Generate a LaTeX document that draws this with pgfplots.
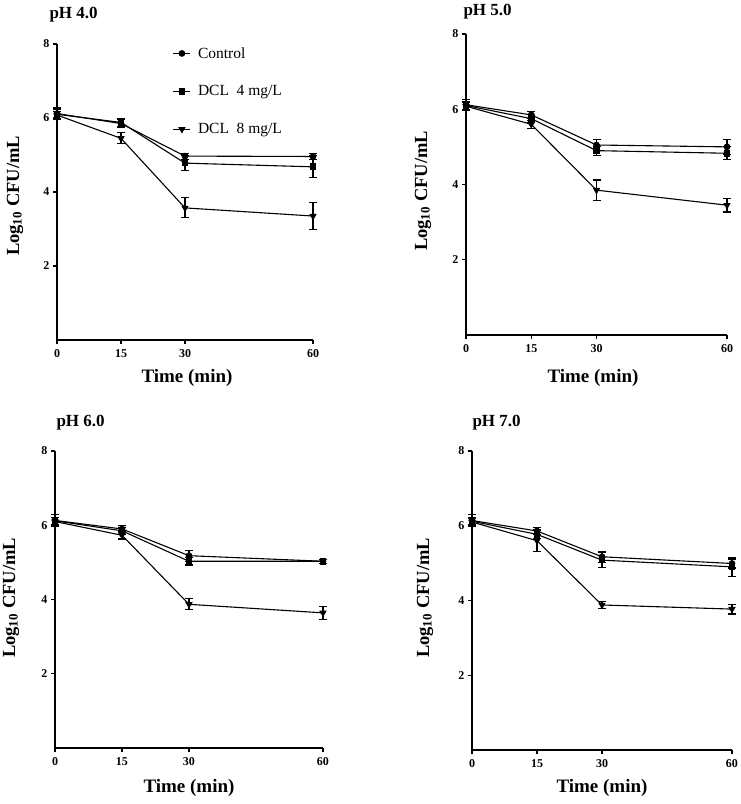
\documentclass[border=0pt]{standalone}
\usepackage{fontspec}
\setmainfont{Liberation Serif}
\usepackage{pgfplots}
\pgfplotsset{compat=1.18}
\pgfplotsset{
  panel/.style={
    scale only axis, anchor=south west, clip=false,
    axis lines=left,
    axis line style={-, line width=1.4pt},
    xmin=0, xmax=60, ymin=0, ymax=8,
    xtick={0,15,30,60}, ytick={2,4,6,8},
    tick align=outside, major tick length=4pt,
    every tick/.style={line width=1.2pt, black},
    /pgf/number format/assume math mode=true,
    ticklabel style={font=\fontsize{12}{12}\selectfont\bfseries},
    xticklabel style={yshift=-2pt},
  },
  eb/.style={black, line width=1.1pt,
      error bars/y dir=both, error bars/y explicit,
      error bars/error bar style={line width=1.1pt},
      error bars/error mark options={rotate=90, mark size=4pt, line width=1.1pt}},
  ctrl/.style={eb, mark=*, mark size=2.8pt, mark options={fill=black}},
  dfour/.style={eb, mark=square*, mark size=2.8pt, mark options={fill=black}},
  deight/.style={eb, mark=triangle*, mark size=3.2pt, mark options={rotate=180, fill=black}},
}
\newcommand{\lab}[1]{\fontsize{#1}{#1}\selectfont\bfseries}
\begin{document}
\begin{tikzpicture}
\useasboundingbox (0pt,0pt) rectangle (741pt,804pt);
% ---------- pH 4.0 ----------
\begin{axis}[panel, at={(57pt,464pt)}, width=256pt, height=296pt,
  legend style={at={(0.44,1.003)}, anchor=north west, draw=none, fill=none,
    font=\fontsize{15.5}{15.5}\selectfont, row sep=22pt, cells={anchor=west},
    nodes={inner xsep=7pt}}]
\addplot[ctrl] coordinates {(0,6.12) +- (0,0.15) (15,5.85) +- (0,0.1) (30,4.97) +- (0,0.08) (60,4.96) +- (0,0.08)};
\addplot[dfour] coordinates {(0,6.10) +- (0,0.12) (15,5.88) +- (0,0.1) (30,4.78) +- (0,0.2) (60,4.68) +- (0,0.3)};
\addplot[deight] coordinates {(0,6.08) +- (0,0.1) (15,5.45) +- (0,0.15) (30,3.57) +- (0,0.27) (60,3.35) +- (0,0.37)};
\legend{Control, DCL\ \ 4 mg/L, DCL\ \ 8 mg/L}
\end{axis}
\node[anchor=west] at (46pt,789pt) {\lab{17}pH 4.0};
\node[rotate=90] at (15pt,608pt) {\lab{18.5}Log\textsubscript{10} CFU/mL};
\node at (187pt,426pt) {\lab{19}Time (min)};
% ---------- pH 5.0 ----------
\begin{axis}[panel, at={(466pt,469pt)}, width=261pt, height=301pt]
\addplot[ctrl] coordinates {(0,6.12) +- (0,0.15) (15,5.85) +- (0,0.1) (30,5.05) +- (0,0.15) (60,5.00) +- (0,0.2)};
\addplot[dfour] coordinates {(0,6.10) +- (0,0.1) (15,5.75) +- (0,0.1) (30,4.90) +- (0,0.12) (60,4.83) +- (0,0.17)};
\addplot[deight] coordinates {(0,6.08) +- (0,0.1) (15,5.60) +- (0,0.1) (30,3.85) +- (0,0.27) (60,3.45) +- (0,0.18)};
\end{axis}
\node[anchor=west] at (460pt,792pt) {\lab{17}pH 5.0};
\node[rotate=90] at (423pt,613pt) {\lab{18.5}Log\textsubscript{10} CFU/mL};
\node at (593pt,426pt) {\lab{19}Time (min)};
% ---------- pH 6.0 ----------
\begin{axis}[panel, at={(55pt,56pt)}, width=268pt, height=297pt]
\addplot[ctrl] coordinates {(0,6.13) +- (0,0.17) (15,5.90) +- (0,0.1) (30,5.18) +- (0,0.15) (60,5.03) +- (0,0.05)};
\addplot[dfour] coordinates {(0,6.12) +- (0,0.1) (15,5.85) +- (0,0.1) (30,5.03) +- (0,0.1) (60,5.03) +- (0,0.05)};
\addplot[deight] coordinates {(0,6.10) +- (0,0.1) (15,5.73) +- (0,0.1) (30,3.87) +- (0,0.15) (60,3.64) +- (0,0.17)};
\end{axis}
\node[anchor=west] at (53pt,381pt) {\lab{17}pH 6.0};
\node[rotate=90] at (11pt,206pt) {\lab{18.5}Log\textsubscript{10} CFU/mL};
\node at (189pt,16pt) {\lab{19}Time (min)};
% ---------- pH 7.0 ----------
\begin{axis}[panel, at={(472pt,54pt)}, width=260pt, height=299pt]
\addplot[ctrl] coordinates {(0,6.14) +- (0,0.16) (15,5.86) +- (0,0.1) (30,5.17) +- (0,0.15) (60,4.99) +- (0,0.12)};
\addplot[dfour] coordinates {(0,6.12) +- (0,0.1) (15,5.77) +- (0,0.1) (30,5.08) +- (0,0.2) (60,4.90) +- (0,0.25)};
\addplot[deight] coordinates {(0,6.10) +- (0,0.1) (15,5.60) +- (0,0.3) (30,3.88) +- (0,0.1) (60,3.77) +- (0,0.13)};
\end{axis}
\node[anchor=west] at (469pt,381pt) {\lab{17}pH 7.0};
\node[rotate=90] at (425pt,206pt) {\lab{18.5}Log\textsubscript{10} CFU/mL};
\node at (602pt,16pt) {\lab{19}Time (min)};
\end{tikzpicture}
\end{document}
